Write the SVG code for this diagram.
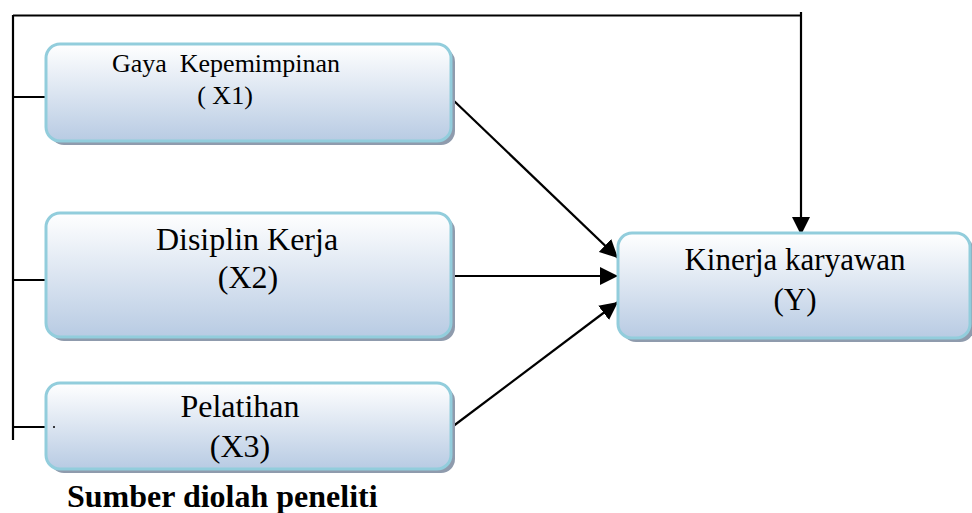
<svg xmlns="http://www.w3.org/2000/svg" width="972" height="513" viewBox="0 0 972 513">
  <defs>
    <linearGradient id="boxfill" x1="0" y1="0" x2="0" y2="1">
      <stop offset="0" stop-color="#ffffff"/>
      <stop offset="1" stop-color="#b8cbe3"/>
    </linearGradient>
    <marker id="arrow" markerUnits="userSpaceOnUse" markerWidth="18" markerHeight="18" viewBox="0 0 16 16" refX="16" refY="8" orient="auto">
      <path d="M0,0 L16,8 L0,16 Z" fill="#000"/>
    </marker>
  </defs>
  <style>
    .shadow { fill: #8f9bad; }
    .box { fill: url(#boxfill); stroke: #92cddc; stroke-width: 3; }
    .conn { stroke: #000; stroke-width: 2.2; fill: none; }
    .t { font-family: "Liberation Serif", "Times New Roman", serif; fill: #000; text-anchor: middle; }
  </style>

  <g id="connectors">
    <path class="conn" d="M13,15.5 H801"/>
    <path class="conn" d="M801,12 V235" marker-end="url(#arrow)"/>
    <path class="conn" d="M13,15 V440"/>
    <path class="conn" d="M13,97 H46"/>
    <path class="conn" d="M13,280 H46"/>
    <path class="conn" d="M13,427 H46"/>
    <path class="conn" d="M452,99 L618,258" marker-end="url(#arrow)"/>
    <path class="conn" d="M452,276 H618" marker-end="url(#arrow)"/>
    <path class="conn" d="M452,427 L618,302" marker-end="url(#arrow)"/>
  </g>

  <g id="x1">
    <rect class="shadow" x="50" y="48" width="405" height="97" rx="14"/>
    <rect class="box" x="46" y="44" width="405" height="97" rx="14"/>
    <text class="t" x="226" y="72" font-size="26" xml:space="preserve">Gaya  Kepemimpinan</text>
    <text class="t" x="225" y="104" font-size="26" xml:space="preserve">( X1)</text>
  </g>

  <g id="x2">
    <rect class="shadow" x="50" y="217" width="405" height="124" rx="14"/>
    <rect class="box" x="46" y="213" width="405" height="124" rx="14"/>
    <text class="t" x="247" y="250" font-size="32">Disiplin Kerja</text>
    <text class="t" x="248" y="288" font-size="32">(X2)</text>
  </g>

  <g id="x3">
    <rect class="shadow" x="50" y="387" width="405" height="86" rx="14"/>
    <rect class="box" x="46" y="383" width="405" height="86" rx="14"/>
    <circle cx="54" cy="427" r="1" fill="#000"/>
    <text class="t" x="240" y="417" font-size="32">Pelatihan</text>
    <text class="t" x="240" y="457" font-size="32">(X3)</text>
  </g>

  <g id="y">
    <rect class="shadow" x="622" y="237" width="352" height="105" rx="14"/>
    <rect class="box" x="618" y="233" width="352" height="105" rx="14"/>
    <text class="t" x="795" y="270" font-size="31">Kinerja karyawan</text>
    <text class="t" x="795" y="310" font-size="31">(Y)</text>
  </g>

  <g id="caption">
    <text x="67" y="507" font-family="Liberation Serif, 'Times New Roman', serif" font-size="32" font-weight="bold" fill="#000">Sumber diolah peneliti</text>
  </g>
</svg>
